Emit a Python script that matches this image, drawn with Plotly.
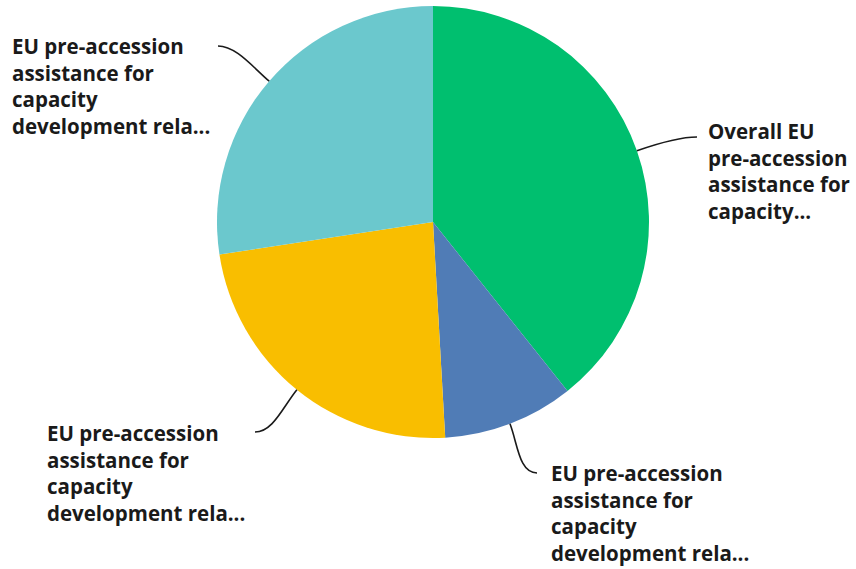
import math
import plotly.graph_objects as go

# Slice data (clockwise from 12 o'clock)
labels = [
    "Overall EU pre-accession assistance for capacity...",
    "EU pre-accession assistance for capacity development rela...",
    "EU pre-accession assistance for capacity development rela...",
    "EU pre-accession assistance for capacity development rela...",
]
wrapped = [
    "Overall EU<br>pre-accession<br>assistance for<br>capacity...",
    "EU pre-accession<br>assistance for<br>capacity<br>development rela...",
    "EU pre-accession<br>assistance for<br>capacity<br>development rela...",
    "EU pre-accession<br>assistance for<br>capacity<br>development rela...",
]
values = [39.3, 9.8, 23.5, 27.4]
colors = ["#00BF6F", "#507CB6", "#F9BE00", "#6BC8CD"]

W, H = 856, 569
CX, CY, R = 433, 222, 216

# label placement: (text x, text top y, leader end x, leader end y)
label_pos = [
    (706, 115, 697, 137),
    (549, 457, 537, 473),
    (45, 417, 255, 432),
    (10, 30, 218, 46),
]

fig = go.Figure(go.Pie(
    labels=[f"{l} ({i})" for i, l in enumerate(labels)],
    values=values,
    marker=dict(colors=colors, line=dict(width=0)),
    sort=False,
    direction="clockwise",
    rotation=0,
    textinfo="none",
    hoverinfo="label+percent",
    domain=dict(x=[(CX - R) / W, (CX + R) / W], y=[1 - (CY + R) / H, 1 - (CY - R) / H]),
    showlegend=False,
))


def px(x, y):
    return x / W, 1 - y / H


total = sum(values)
cum = 0.0
shapes = []
annotations = []
for v, txt, (tx, ty, ex, ey) in zip(values, wrapped, label_pos):
    mid = (cum + v / 2) / total * 2 * math.pi
    cum += v
    dx, dy = math.sin(mid), -math.cos(mid)
    ax, ay = CX + R * dx, CY + R * dy
    c1x, c1y = ax + 22 * dx, ay + 22 * dy
    side = 1 if ex < ax else -1
    c2x, c2y = ex + side * 18, ey
    pts = [px(ax, ay), px(c1x, c1y), px(c2x, c2y), px(ex, ey)]
    path = "M {:.5f},{:.5f} C {:.5f},{:.5f} {:.5f},{:.5f} {:.5f},{:.5f}".format(
        *[c for p in pts for c in p])
    shapes.append(dict(type="path", xref="paper", yref="paper", path=path,
                       line=dict(color="#1a1a1a", width=1.6)))
    annotations.append(dict(
        x=tx / W, y=1 - ty / H, xref="paper", yref="paper",
        xanchor="left", yanchor="top", align="left", showarrow=False,
        text=txt,
        font=dict(family="Open Sans", size=20.5, color="#1a1a1a", weight=700),
    ))

fig.update_layout(
    width=W, height=H,
    margin=dict(l=0, r=0, t=0, b=0),
    paper_bgcolor="white",
    plot_bgcolor="white",
    shapes=shapes,
    annotations=annotations,
)

fig.write_html("out.html")
